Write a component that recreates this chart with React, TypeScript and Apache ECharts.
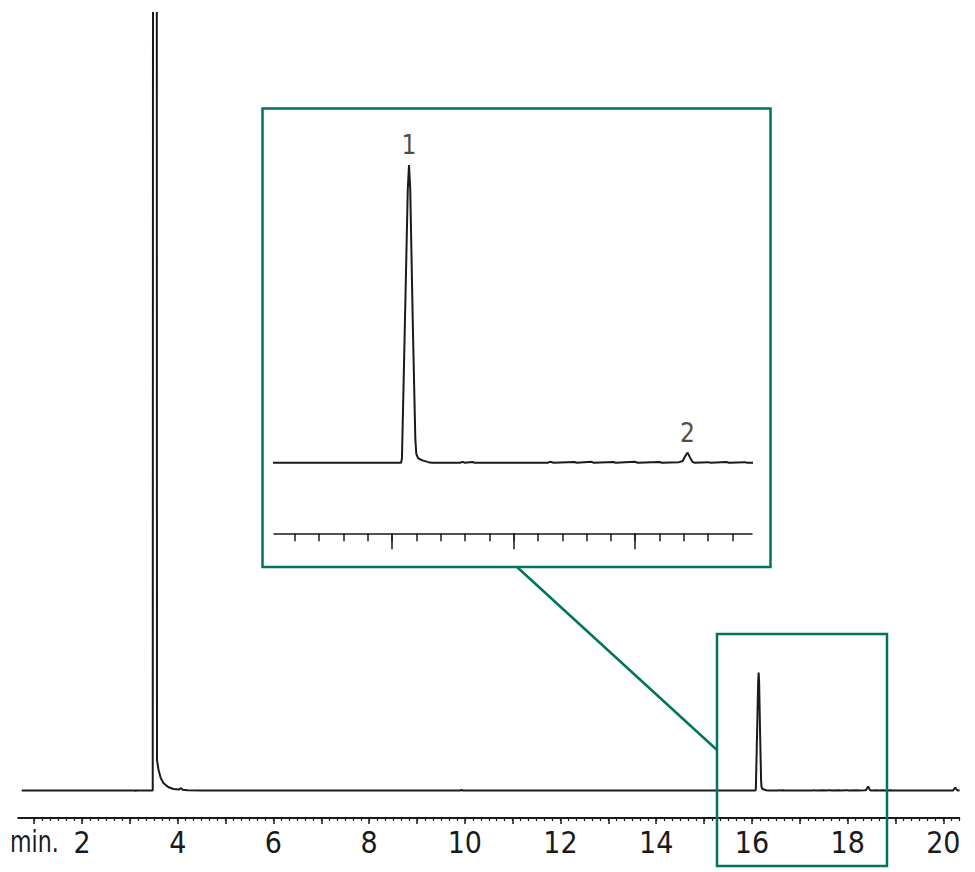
import React, { useEffect, useRef } from "react";
import * as echarts from "echarts";

// ---- Data (time in min, detector signal in arbitrary units; peak 1 = 100) ----
const baselineStart: [number, number][] = [
  [0.74, 0], [3.1, 0], [3.12, -0.4], [3.14, 0], [3.478, 0],
];
const solventPeak: [number, number][] = [
  [3.484, 700], [3.525, 1500], [3.563, 700], [3.567, 25.8], [3.6, 17.4],
  [3.645, 10.6], [3.7, 6.4], [3.8, 3.0], [3.91, 1.3], [4.02, 0.8],
  [4.07, 2.0], [4.1, 0.7], [4.21, 0.3], [4.5, 0],
];
const midBaseline: [number, number][] = [
  [9.9, 0], [9.93, 0.4], [9.96, 0], [15.9, 0], [16.075, 0],
];
const peakOne: [number, number][] = [
  [16.082, 1.5], [16.1, 35], [16.13, 92], [16.14, 100], [16.15, 92],
  [16.172, 45], [16.192, 8], [16.2, 3], [16.215, 1.5], [16.25, 0.8],
  [16.3, 0.2], [16.33, 0],
];
const noiseAfterOne: [number, number][] = [
  [16.56, 0], [16.58, 0.3], [16.6, 0], [16.66, 0.25], [16.68, 0],
  [17.28, 0], [17.3, 0.3], [17.33, 0], [17.5, 0.25], [17.52, 0],
  [17.64, 0.3], [17.66, 0], [17.82, 0.25], [17.84, 0], [18.0, 0.3],
  [18.02, 0], [18.2, 0.25], [18.22, 0], [18.36, 0.2],
];
const peakTwo: [number, number][] = [
  [18.39, 0.6], [18.41, 2.2], [18.43, 3.4], [18.45, 1.8], [18.47, 0.3],
  [18.49, 0], [18.6, 0.2], [18.62, 0], [18.75, 0.25], [18.77, 0],
  [18.9, 0.2], [18.92, 0],
];
const peakThree: [number, number][] = [
  [20.2, 0], [20.23, 1.5], [20.25, 2.5], [20.27, 1.2], [20.3, 0], [20.34, 0.2],
];

const peakLabels = ["1", "2"];
const peakTimes = [16.14, 18.43];
const peakHeights = [100, 3.4];

const mainLabelTicks = [2, 4, 6, 8, 10, 12, 14, 16, 18, 20];
const mainMajorTicks = [1, 2, 3, 4, 5, 6, 7, 8, 9, 10, 11, 12, 13, 14, 15, 16, 17, 18, 19, 20];
const insetMajorTicks = [16, 17, 18];
const insetMinorTicks = [15.2, 15.4, 15.6, 15.8, 16, 16.2, 16.4, 16.6, 16.8, 17, 17.2, 17.4, 17.6, 17.8, 18, 18.2, 18.4, 18.6, 18.8];

const trace = [
  ...baselineStart, ...solventPeak, ...midBaseline, ...peakOne,
  ...noiseAfterOne, ...peakTwo, ...peakThree,
];

// minor ticks of the main axis every 10 s (1/6 min)
const mainMinorTicks: number[] = [];
for (let i = 6; i <= 122; i++) mainMinorTicks.push(i / 6);

const GREEN = "#00745f";
const INK = "#1a1a1a";
const FONT = "'Liberation Sans Narrow', 'DejaVu Sans Condensed', 'Liberation Sans', sans-serif";

export default function App() {
  const ref = useRef<HTMLDivElement>(null);
  useEffect(() => {
    document.body.style.margin = "0";
    const chart = echarts.init(ref.current!, null, { renderer: "svg" });
    const hiddenY = { show: false, splitLine: { show: false } };
    chart.setOption({
      animation: false,
      backgroundColor: "#ffffff",
      grid: [
        { left: 18.2, right: 15.7, top: 13, bottom: 54 },
        { left: 274, width: 478, top: 140, height: 393.3 },
      ],
      xAxis: [
        {
          gridIndex: 0, type: "value", position: "bottom", min: 2 / 3, max: 20 + 1 / 3,
          splitLine: { show: false },
          axisLine: { show: true, onZero: false, lineStyle: { color: INK, width: 2 } },
          axisTick: { show: true, length: 6, customValues: mainMajorTicks, lineStyle: { color: INK, width: 1.5 } },
          axisLabel: {
            show: true, customValues: mainLabelTicks, margin: 9,
            fontSize: 30, fontFamily: FONT, color: INK,
          },
        },
        {
          gridIndex: 0, type: "value", position: "bottom", min: 2 / 3, max: 20 + 1 / 3,
          splitLine: { show: false },
          axisLine: { show: false, onZero: false },
          axisTick: { show: true, length: 3, customValues: mainMinorTicks, lineStyle: { color: INK, width: 1.2 } },
          axisLabel: { show: false },
        },
        {
          gridIndex: 1, type: "value", position: "bottom", min: 15.03, max: 18.96,
          splitLine: { show: false },
          axisLine: { show: true, onZero: false, lineStyle: { color: INK, width: 1.5 } },
          axisTick: { show: true, length: 16, customValues: insetMajorTicks, lineStyle: { color: INK, width: 1.5 } },
          axisLabel: { show: false },
        },
        {
          gridIndex: 1, type: "value", position: "bottom", min: 15.03, max: 18.96,
          splitLine: { show: false },
          axisLine: { show: false, onZero: false },
          axisTick: { show: true, length: 8, customValues: insetMinorTicks, lineStyle: { color: INK, width: 1.5 } },
          axisLabel: { show: false },
        },
      ],
      yAxis: [
        { gridIndex: 0, type: "value", min: -23.3, max: 658.9, ...hiddenY },
        { gridIndex: 1, type: "value", min: -23.7, max: 108.4, ...hiddenY },
      ],
      series: [
        {
          type: "line", xAxisIndex: 0, yAxisIndex: 0, data: trace, showSymbol: false,
          clip: true, lineStyle: { color: INK, width: 2 }, silent: true,
        },
        {
          type: "line", xAxisIndex: 2, yAxisIndex: 1, data: trace, showSymbol: false,
          clip: true, lineStyle: { color: INK, width: 2 }, silent: true,
        },
        {
          type: "scatter", xAxisIndex: 2, yAxisIndex: 1, symbolSize: 0, silent: true,
          data: peakTimes.map((t, i) => ({ value: [t, peakHeights[i]], name: peakLabels[i] })),
          label: {
            show: true, position: "top", distance: 7, formatter: (p: any) => p.name,
            fontSize: 26, fontFamily: FONT, color: INK,
          },
        },
      ],
      graphic: [
        {
          type: "rect", shape: { x: 262.5, y: 108.5, width: 508, height: 458.5 },
          style: { fill: "none", stroke: GREEN, lineWidth: 2.5 }, z: 10,
        },
        {
          type: "rect", shape: { x: 717, y: 634, width: 170, height: 232 },
          style: { fill: "none", stroke: GREEN, lineWidth: 2.5 }, z: 10,
        },
        {
          type: "line", shape: { x1: 517, y1: 567, x2: 717, y2: 750 },
          style: { stroke: GREEN, lineWidth: 2.5 }, z: 10,
        },
        {
          type: "text", x: 10, y: 827, scaleX: 0.82,
          style: { text: "min.", fontSize: 30, fontFamily: FONT, fill: INK, textVerticalAlign: "top" },
        },
      ],
    });
    return () => chart.dispose();
  }, []);
  return <div ref={ref} style={{ width: 975, height: 872 }} />;
}
